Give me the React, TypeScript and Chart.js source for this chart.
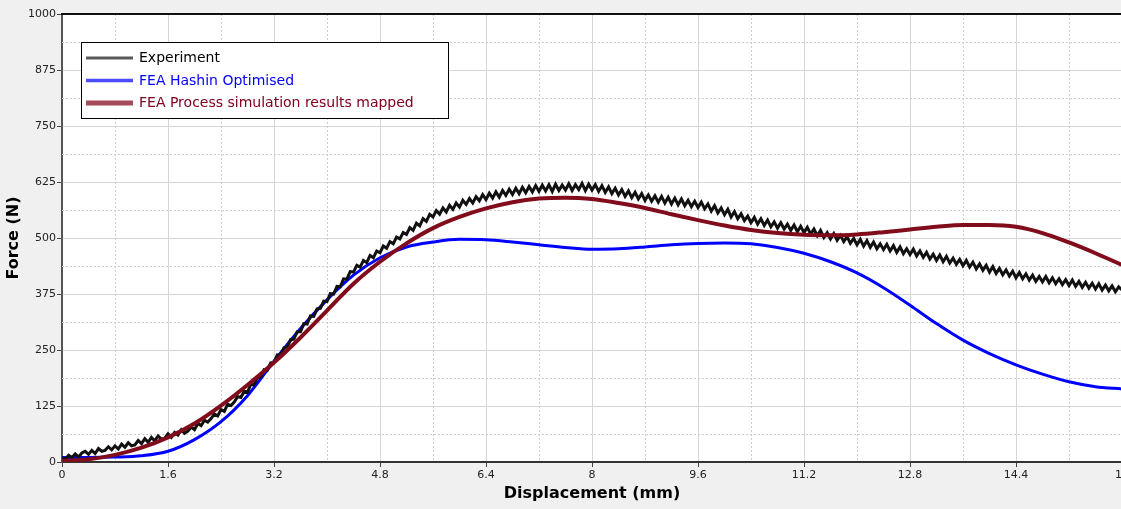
import React, { useEffect, useRef } from 'react';
import { Chart, registerables } from 'chart.js';

Chart.register(...registerables);

// ---- data ----
const SMOOTH_X = [0, 0.4, 0.8, 1.2, 1.6, 2.0, 2.4, 2.8, 3.2, 3.6, 4.0, 4.4, 4.8, 5.2, 5.6, 6.0, 6.4, 6.8, 7.2, 7.6, 8.0, 8.4, 8.8, 9.2, 9.6, 10.0, 10.4, 10.8, 11.2, 11.6, 12.0, 12.4, 12.8, 13.2, 13.6, 14.0, 14.4, 14.8, 15.2, 15.6, 16.0];

const HASHIN = [10, 10, 11, 14, 24, 50, 90, 148, 225, 298, 362, 417, 456, 480, 491, 497, 496, 491, 485, 479, 475, 476, 480, 485, 488, 489, 487, 479, 466, 447, 422, 389, 350, 309, 272, 242, 217, 196, 179, 168, 163];

const PROCESS = [2, 6, 16, 32, 55, 86, 126, 172, 222, 278, 338, 398, 447, 488, 522, 547, 566, 580, 588, 590, 587, 578, 567, 553, 540, 528, 518, 511, 507, 506, 508, 513, 519, 525, 529, 529, 525, 511, 490, 466, 440];

// experiment sampled every 0.05 mm (8 samples per 0.4 mm row)
const EXP_STEP = 0.05;
const EXPERIMENT = [
  9, 6, 15, 10, 18, 11, 20, 24,
  17, 26, 19, 30, 24, 26, 34, 27,
  36, 29, 40, 33, 43, 36, 38, 48,
  41, 52, 44, 55, 47, 58, 51, 53,
  63, 55, 66, 60, 72, 64, 69, 78,
  72, 86, 81, 93, 89, 97, 107, 103,
  117, 113, 129, 126, 134, 146, 144, 158,
  156, 173, 172, 189, 189, 206, 205, 221,
  222, 239, 238, 255, 257, 273, 274, 291,
  291, 309, 308, 326, 325, 342, 343, 359,
  358, 376, 375, 392, 391, 409, 408, 425,
  424, 439, 435, 450, 445, 461, 456, 471,
  467, 482, 477, 492, 487, 502, 498, 512,
  508, 523, 517, 533, 527, 543, 537, 553,
  547, 561, 553, 567, 558, 573, 564, 578,
  569, 584, 575, 588, 578, 592, 583, 597,
  586, 600, 589, 603, 591, 606, 595, 609,
  597, 611, 599, 613, 601, 615, 603, 617,
  604, 618, 605, 619, 604, 620, 606, 618,
  607, 621, 606, 619, 608, 622, 606, 620,
  607, 619, 604, 617, 602, 614, 599, 611,
  596, 608, 593, 605, 590, 602, 587, 599,
  584, 596, 582, 594, 580, 593, 578, 591,
  576, 589, 574, 587, 572, 584, 570, 582,
  568, 580, 565, 576, 560, 572, 556, 567,
  552, 564, 547, 559, 543, 554, 539, 549,
  534, 546, 531, 543, 528, 540, 525, 536,
  522, 534, 520, 531, 517, 529, 514, 526,
  512, 524, 509, 520, 505, 517, 501, 512,
  498, 510, 495, 506, 492, 503, 488, 499,
  485, 497, 482, 494, 479, 491, 476, 487,
  474, 486, 471, 483, 468, 480, 465, 476,
  463, 475, 460, 471, 457, 468, 453, 464,
  450, 462, 447, 459, 444, 455, 441, 452,
  438, 450, 435, 446, 431, 442, 428, 439,
  424, 436, 421, 432, 418, 429, 415, 426,
  411, 423, 409, 420, 406, 417, 403, 414,
  402, 414, 400, 411, 398, 409, 396, 407,
  394, 406, 392, 403, 390, 401, 388, 399,
  386, 398, 384, 395, 382, 393, 380, 391,
  384,
];

const X_MIN = 0;
const X_MAX = 16;
const X_TICK_STEP = 1.6;
const Y_MIN = 0;
const Y_MAX = 1000;
const Y_TICK_STEP = 125;

const SERIES_LABELS = ['Experiment', 'FEA Hashin Optimised', 'FEA Process simulation results mapped'];
const X_TITLE = 'Displacement (mm)';
const Y_TITLE = 'Force (N)';

// ---- styles ----
const LINE_COLORS = ['#111111', '#0000ff', '#800c1c'];
const LINE_WIDTHS = [3, 3, 4];
const LEGEND_SAMPLE_COLORS = ['#5a5a5a', '#4d4dff', '#a34b5a'];
const LEGEND_SAMPLE_WIDTHS = [3, 3.5, 5];
const LEGEND_TEXT_COLORS = ['#000000', '#0000ff', '#800020'];

const plotBackground = {
  id: 'plotBackground',
  beforeDraw(chart: any) {
    const { ctx, chartArea: a } = chart;
    ctx.save();
    ctx.fillStyle = '#ffffff';
    ctx.fillRect(a.left, a.top, a.right - a.left, a.bottom - a.top);
    ctx.restore();
  },
};

const minorGrid = {
  id: 'minorGrid',
  beforeDatasetsDraw(chart: any) {
    const { ctx, chartArea: a, scales } = chart;
    const x = scales.x;
    const y = scales.y;
    ctx.save();
    ctx.strokeStyle = '#cdcdcd';
    ctx.lineWidth = 1;
    ctx.setLineDash([2, 2]);
    ctx.beginPath();
    for (let i = 0; i < x.ticks.length - 1; i++) {
      const v = (x.ticks[i].value + x.ticks[i + 1].value) / 2;
      const px = Math.round(x.getPixelForValue(v)) + 0.5;
      ctx.moveTo(px, a.top);
      ctx.lineTo(px, a.bottom);
    }
    for (let i = 0; i < y.ticks.length - 1; i++) {
      const v = (y.ticks[i].value + y.ticks[i + 1].value) / 2;
      const py = Math.round(y.getPixelForValue(v)) + 0.5;
      ctx.moveTo(a.left, py);
      ctx.lineTo(a.right, py);
    }
    ctx.stroke();
    ctx.restore();
  },
};

const frame = {
  id: 'frame',
  afterDatasetsDraw(chart: any) {
    const { ctx, chartArea: a } = chart;
    ctx.save();
    ctx.strokeStyle = '#111111';
    ctx.lineWidth = 2;
    ctx.beginPath();
    ctx.moveTo(a.left - 1, a.top);
    ctx.lineTo(a.right, a.top);
    ctx.stroke();
    ctx.restore();
  },
};

const boxLegend = {
  id: 'boxLegend',
  afterDraw(chart: any) {
    const { ctx, chartArea: a } = chart;
    const bx = a.left + 19.5;
    const by = a.top + 28.5;
    const bw = 367;
    const bh = 76;
    ctx.save();
    ctx.fillStyle = '#ffffff';
    ctx.fillRect(bx, by, bw, bh);
    ctx.strokeStyle = '#000000';
    ctx.lineWidth = 1;
    ctx.strokeRect(bx, by, bw, bh);
    ctx.font = '14px "DejaVu Sans", sans-serif';
    ctx.textBaseline = 'middle';
    ctx.textAlign = 'left';
    chart.data.datasets.forEach((ds: any, i: number) => {
      const ry = by + 15.5 + i * 22.5;
      ctx.strokeStyle = LEGEND_SAMPLE_COLORS[i];
      ctx.lineWidth = LEGEND_SAMPLE_WIDTHS[i];
      ctx.beginPath();
      ctx.moveTo(bx + 4.5, ry);
      ctx.lineTo(bx + 51.5, ry);
      ctx.stroke();
      ctx.fillStyle = LEGEND_TEXT_COLORS[i];
      ctx.fillText(ds.label, bx + 57.5, ry + 0.5);
    });
    ctx.restore();
  },
};

export default function App() {
  const canvasRef = useRef<HTMLCanvasElement | null>(null);

  useEffect(() => {
    const canvas = canvasRef.current;
    if (!canvas) return;

    const expPoints = EXPERIMENT.map((v, i) => ({ x: i * EXP_STEP, y: v }));
    const hashinPoints = SMOOTH_X.map((x, i) => ({ x, y: HASHIN[i] }));
    const processPoints = SMOOTH_X.map((x, i) => ({ x, y: PROCESS[i] }));

    const tickFont = { family: '"DejaVu Sans", sans-serif', size: 11 };
    const titleFont = { family: '"DejaVu Sans", sans-serif', size: 16, weight: 'bold' as const };

    const chart = new Chart(canvas, {
      type: 'line',
      data: {
        datasets: [
          {
            label: SERIES_LABELS[0],
            data: expPoints,
            borderColor: LINE_COLORS[0],
            borderWidth: LINE_WIDTHS[0],
            pointRadius: 0,
            tension: 0,
            order: 1,
          },
          {
            label: SERIES_LABELS[1],
            data: hashinPoints,
            borderColor: LINE_COLORS[1],
            borderWidth: LINE_WIDTHS[1],
            pointRadius: 0,
            cubicInterpolationMode: 'monotone',
            order: 2,
          },
          {
            label: SERIES_LABELS[2],
            data: processPoints,
            borderColor: LINE_COLORS[2],
            borderWidth: LINE_WIDTHS[2],
            pointRadius: 0,
            cubicInterpolationMode: 'monotone',
            order: 0,
          },
        ],
      },
      options: {
        animation: false,
        responsive: false,
        devicePixelRatio: 1,
        parsing: false as any,
        layout: { padding: { left: 0, right: 18, top: 14, bottom: 0 } },
        plugins: {
          legend: { display: false },
          tooltip: { enabled: false },
        },
        scales: {
          x: {
            type: 'linear',
            min: X_MIN,
            max: X_MAX,
            afterFit: (s: any) => {
              s.height = 47;
            },
            ticks: {
              stepSize: X_TICK_STEP,
              font: tickFont,
              color: '#222222',
              padding: 2,
              maxRotation: 0,
              autoSkip: false,
              callback: (v: any) => Number(v).toFixed(1).replace(/\.0$/, ''),
            },
            grid: {
              color: '#d6d6d6',
              tickColor: '#444444',
              tickLength: 5,
              lineWidth: 1,
            },
            border: { color: '#333333', width: 2 },
            title: {
              display: true,
              text: X_TITLE,
              font: titleFont,
              color: '#000000',
              padding: { top: 0, bottom: 6 },
            },
          },
          y: {
            type: 'linear',
            min: Y_MIN,
            max: Y_MAX,
            afterFit: (s: any) => {
              s.width = 62;
            },
            ticks: {
              stepSize: Y_TICK_STEP,
              font: tickFont,
              color: '#222222',
              padding: 1,
              callback: (v: any) => String(v),
            },
            grid: {
              color: '#d6d6d6',
              tickColor: '#444444',
              tickLength: 5,
              lineWidth: 1,
            },
            border: { color: '#555555', width: 2 },
            title: {
              display: true,
              text: Y_TITLE,
              font: titleFont,
              color: '#000000',
              padding: { top: 4, bottom: 0 },
            },
          },
        },
      },
      plugins: [plotBackground, minorGrid, frame, boxLegend],
    });

    return () => chart.destroy();
  }, []);

  return (
    <div
      style={{
        position: 'fixed',
        left: 0,
        top: 0,
        width: 1121,
        height: 509,
        overflow: 'hidden',
        background: '#f0f0f0',
      }}
    >
      <canvas ref={canvasRef} width={1140} height={509} style={{ display: 'block' }} />
    </div>
  );
}
